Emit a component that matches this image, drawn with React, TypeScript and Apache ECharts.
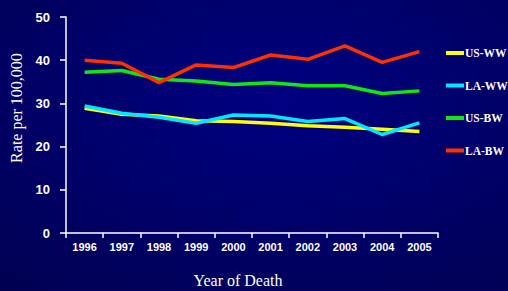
import React, { useEffect, useRef } from "react";
import * as echarts from "echarts";

const years = ["1996", "1997", "1998", "1999", "2000", "2001", "2002", "2003", "2004", "2005"];
const usWW = [28.9, 27.5, 27.1, 26.0, 25.8, 25.4, 24.8, 24.5, 24.0, 23.5];
const laWW = [29.4, 27.7, 26.8, 25.4, 27.3, 27.1, 25.8, 26.5, 22.8, 25.5];
const usBW = [37.2, 37.6, 35.6, 35.2, 34.4, 34.8, 34.1, 34.1, 32.3, 32.9];
const laBW = [40.0, 39.3, 34.8, 38.9, 38.3, 41.2, 40.2, 43.3, 39.5, 42.0];

const seriesNames = ["US-WW", "LA-WW", "US-BW", "LA-BW"];
const seriesColors = ["#ffff00", "#00e8ff", "#10e810", "#ff3000"];
const seriesData = [usWW, laWW, usBW, laBW];

export default function App() {
  const ref = useRef<HTMLDivElement>(null);
  useEffect(() => {
    if (!ref.current) return;
    const chart = echarts.init(ref.current, null, { renderer: "svg" });
    chart.setOption({
      animation: false,
      backgroundColor: {
        type: "radial",
        x: 0.55,
        y: 0.35,
        r: 0.9,
        colorStops: [
          { offset: 0, color: "#000082" },
          { offset: 1, color: "#00004e" },
        ],
      },
      grid: { left: 66, right: 70, top: 17, bottom: 58, outerBoundsMode: "none", containLabel: false },
      legend: {
        orient: "vertical",
        left: 441,
        top: 41,
        itemWidth: 18,
        itemHeight: 4,
        itemGap: 18.5,
        icon: "rect",
        data: seriesNames,
        textStyle: {
          color: "#ffffff",
          fontFamily: "Liberation Serif",
          fontWeight: "bold",
          fontSize: 11.5,
          lineHeight: 14,
          padding: [0, 0, 0, -4],
        },
      },
      xAxis: {
        type: "category",
        data: years,
        boundaryGap: true,
        name: "Year of Death",
        nameLocation: "middle",
        nameGap: 39,
        nameTextStyle: {
          color: "#ffffff",
          fontFamily: "Liberation Serif",
          fontSize: 16,
          padding: [0, 28, 0, 0],
        },
        axisLine: { lineStyle: { color: "#ffffff", width: 1.5 } },
        axisTick: { show: true, length: 5, lineStyle: { color: "#ffffff", width: 1.5 } },
        axisLabel: {
          color: "#ffffff",
          fontFamily: "Liberation Sans",
          fontWeight: "bold",
          fontSize: 11,
          margin: 8,
          interval: 0,
        },
      },
      yAxis: {
        type: "value",
        min: 0,
        max: 50,
        interval: 10,
        name: "Rate per 100,000",
        nameLocation: "middle",
        nameGap: 42,
        nameRotate: 90,
        nameTextStyle: {
          color: "#ffffff",
          fontFamily: "Liberation Serif",
          fontSize: 16,
          padding: [0, 0, 0, 34],
        },
        axisLine: { show: true, lineStyle: { color: "#ffffff", width: 1.5 } },
        axisTick: { show: true, length: 6, lineStyle: { color: "#ffffff", width: 1.5 } },
        axisLabel: {
          color: "#ffffff",
          fontFamily: "Liberation Sans",
          fontWeight: "bold",
          fontSize: 13,
          margin: 16,
        },
        splitLine: { show: false },
      },
      series: seriesNames.map((name, i) => ({
        name,
        type: "line",
        data: seriesData[i],
        symbol: "none",
        lineStyle: { color: seriesColors[i], width: 3.5 },
        itemStyle: { color: seriesColors[i] },
      })),
    });
    return () => chart.dispose();
  }, []);
  return <div ref={ref} style={{ width: 508, height: 291, position: "absolute", left: 0, top: 0 }} />;
}
